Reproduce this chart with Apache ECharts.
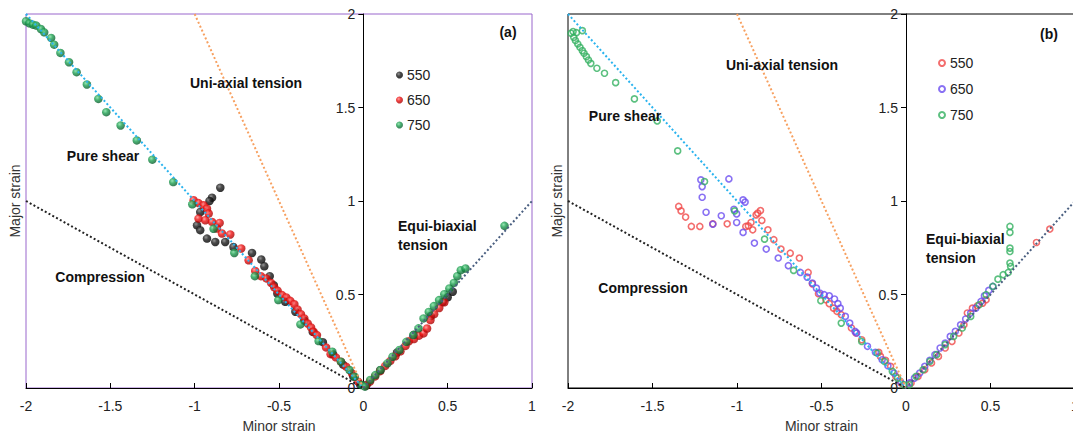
<!DOCTYPE html>
<html>
<head>
<meta charset="utf-8">
<script src="https://cdn.jsdelivr.net/npm/echarts@6/dist/echarts.min.js"></script>
<style>
  html, body { margin: 0; padding: 0; background: #fff; }
  #chart { width: 1073px; height: 436px; }
</style>
</head>
<body>
<div id="chart"></div>
<script>
// series names (legend labels)
var seriesNames = ['550', '650', '750']
var xTicks = { min: -2, max: 1, step: 0.5 }
var yTicks = { min: 0, max: 2, step: 0.5 }

// reference strain paths: [minor, major]
var pureShear = [[-2, 2], [0, 0]]
var uniaxial = [[-1, 2], [0, 0]]
var compression = [[-2, 1], [0, 0]]
var equiBiaxial = [[0, 0], [1, 1]]

// panel (a) data
var a550 = [
  [-0.848, 1.071], [-0.897, 1.018], [-0.912, 1.000], [-0.967, 0.941], [-0.986, 0.870], [-0.967, 0.844],
  [-0.927, 0.799], [-0.878, 0.781], [-0.819, 0.781], [-0.770, 0.754], [-0.660, 0.722], [-0.605, 0.687],
  [-0.587, 0.651], [-0.555, 0.598], [-0.531, 0.550], [-0.510, 0.505], [-0.463, 0.461], [-0.403, 0.408],
  [-0.350, 0.360], [-0.300, 0.300], [-0.240, 0.245], [-0.180, 0.180], [-0.120, 0.125], [-0.060, 0.062],
  [-0.020, 0.020], [0.020, 0.018], [0.100, 0.095], [0.200, 0.190], [0.300, 0.285], [0.400, 0.385],
  [0.470, 0.460], [0.500, 0.485], [0.530, 0.515]
]
var a650 = [
  [-1.006, 1.004], [-0.977, 0.989], [-0.947, 0.977], [-0.927, 0.959], [-0.917, 0.933], [-0.977, 0.906],
  [-0.937, 0.897], [-0.897, 0.888], [-0.852, 0.883], [-0.868, 0.853], [-0.838, 0.826], [-0.789, 0.821],
  [-0.724, 0.746], [-0.680, 0.683], [-0.641, 0.626], [-0.607, 0.598], [-0.575, 0.586], [-0.547, 0.562],
  [-0.528, 0.538], [-0.508, 0.520], [-0.482, 0.497], [-0.457, 0.484], [-0.433, 0.466], [-0.409, 0.448],
  [-0.390, 0.420], [-0.370, 0.395], [-0.350, 0.372], [-0.330, 0.345], [-0.310, 0.324], [-0.295, 0.301],
  [-0.275, 0.283], [-0.221, 0.217], [-0.194, 0.181], [-0.163, 0.164], [-0.133, 0.141], [-0.102, 0.114],
  [-0.067, 0.078], [-0.031, 0.034],
  [0.015, 0.012], [0.040, 0.035], [0.070, 0.062], [0.100, 0.090], [0.130, 0.118], [0.160, 0.145],
  [0.190, 0.170], [0.220, 0.196], [0.250, 0.225], [0.270, 0.250], [0.300, 0.262], [0.330, 0.280],
  [0.357, 0.292], [0.378, 0.318], [0.398, 0.363], [0.420, 0.395], [0.450, 0.428], [0.480, 0.458]
]
var a750 = [
  [-2.000, 1.961], [-1.980, 1.950], [-1.959, 1.943], [-1.939, 1.938], [-1.912, 1.920], [-1.892, 1.902],
  [-1.851, 1.872], [-1.833, 1.836], [-1.796, 1.792], [-1.745, 1.742], [-1.700, 1.689], [-1.639, 1.623],
  [-1.571, 1.546], [-1.524, 1.475], [-1.439, 1.404], [-1.343, 1.324], [-1.251, 1.221], [-1.127, 1.101],
  [-1.014, 0.982], [-0.888, 0.851], [-0.765, 0.722], [-0.643, 0.598], [-0.504, 0.470], [-0.373, 0.340],
  [-0.265, 0.251], [-0.184, 0.194], [-0.133, 0.141], [-0.082, 0.096], [-0.051, 0.060], [-0.010, 0.016],
  [0.010, 0.007], [0.041, 0.043], [0.071, 0.069], [0.102, 0.096], [0.143, 0.132], [0.173, 0.167],
  [0.214, 0.203], [0.255, 0.247], [0.296, 0.283], [0.327, 0.319], [0.357, 0.372], [0.388, 0.407],
  [0.418, 0.438], [0.449, 0.470], [0.480, 0.502], [0.510, 0.532], [0.537, 0.562], [0.557, 0.598],
  [0.578, 0.630], [0.606, 0.639], [0.837, 0.867]
]

// panel (b) data
var b550 = [
  [-1.345, 0.971], [-1.331, 0.947], [-1.304, 0.914], [-1.270, 0.864], [-1.220, 0.864], [-1.143, 0.878],
  [-1.058, 0.878], [-0.948, 0.864], [-0.933, 0.867], [-0.917, 0.885], [-0.907, 0.846], [-0.887, 0.926],
  [-0.877, 0.935], [-0.861, 0.949], [-0.853, 0.896], [-0.817, 0.846], [-0.782, 0.793], [-0.740, 0.743],
  [-0.685, 0.721], [-0.631, 0.695], [-0.579, 0.618], [-0.554, 0.557], [-0.518, 0.504], [-0.474, 0.472],
  [-0.454, 0.451], [-0.429, 0.427], [-0.409, 0.410], [-0.383, 0.392], [-0.323, 0.321], [-0.296, 0.294],
  [-0.262, 0.258], [-0.161, 0.191], [-0.151, 0.169], [-0.121, 0.148], [-0.091, 0.116], [-0.060, 0.062],
  [-0.030, 0.027],
  [0.030, 0.027], [0.071, 0.062], [0.111, 0.098], [0.151, 0.134], [0.192, 0.169], [0.232, 0.214],
  [0.272, 0.249], [0.313, 0.294], [0.343, 0.338], [0.363, 0.401], [0.393, 0.427], [0.423, 0.440],
  [0.454, 0.454], [0.474, 0.472], [0.772, 0.778], [0.851, 0.850]
]
var b650 = [
  [-1.214, 1.113], [-1.206, 1.077], [-1.206, 1.020], [-1.183, 0.940], [-1.143, 0.876], [-1.093, 0.921],
  [-1.048, 1.118], [-1.018, 0.956], [-1.002, 0.931], [-1.002, 0.885], [-0.964, 0.832], [-0.964, 1.006],
  [-0.952, 0.994], [-0.897, 0.775], [-0.827, 0.743], [-0.756, 0.695], [-0.696, 0.654], [-0.625, 0.618],
  [-0.585, 0.593], [-0.554, 0.561], [-0.530, 0.534], [-0.510, 0.508], [-0.484, 0.499], [-0.454, 0.493],
  [-0.423, 0.476], [-0.403, 0.451], [-0.389, 0.427], [-0.359, 0.383], [-0.333, 0.347], [-0.302, 0.303],
  [-0.292, 0.294], [-0.228, 0.223], [-0.181, 0.191], [-0.141, 0.151], [-0.107, 0.119], [-0.071, 0.080],
  [-0.034, 0.036],
  [0.020, 0.027], [0.050, 0.053], [0.081, 0.080], [0.111, 0.116], [0.141, 0.148], [0.171, 0.178],
  [0.202, 0.214], [0.232, 0.240], [0.262, 0.276], [0.292, 0.303], [0.323, 0.338], [0.353, 0.369],
  [0.383, 0.401], [0.413, 0.427], [0.444, 0.463], [0.464, 0.493], [0.490, 0.522], [0.514, 0.543]
]
var b750 = [
  [-1.982, 1.897], [-1.970, 1.906], [-1.950, 1.900], [-1.915, 1.911], [-1.966, 1.875], [-1.956, 1.858],
  [-1.942, 1.840], [-1.929, 1.822], [-1.915, 1.804], [-1.905, 1.790], [-1.891, 1.772], [-1.879, 1.754],
  [-1.865, 1.736], [-1.829, 1.710], [-1.784, 1.683], [-1.718, 1.633], [-1.607, 1.546], [-1.472, 1.428],
  [-1.351, 1.268], [-1.192, 1.104], [-1.014, 0.947], [-0.837, 0.796], [-0.665, 0.629], [-0.504, 0.467],
  [-0.383, 0.347], [-0.262, 0.249], [-0.171, 0.187], [-0.127, 0.142], [-0.081, 0.089], [-0.050, 0.053],
  [-0.014, 0.018],
  [0.020, 0.018], [0.060, 0.062], [0.101, 0.098], [0.141, 0.142], [0.181, 0.178], [0.232, 0.232],
  [0.282, 0.276], [0.333, 0.321], [0.383, 0.383], [0.433, 0.445], [0.474, 0.499], [0.514, 0.543],
  [0.544, 0.582], [0.575, 0.606], [0.605, 0.618], [0.619, 0.650], [0.615, 0.668], [0.615, 0.730],
  [0.615, 0.748], [0.615, 0.832], [0.615, 0.864]
]

var regionLabels = ['Uni-axial tension', 'Pure shear', 'Compression', 'Equi-biaxial', 'tension']
var panelTags = ['(a)', '(b)']

var FONT = '"Liberation Sans", Arial, sans-serif'
var chart = echarts.init(document.getElementById('chart'), null, { renderer: 'svg' })

// two panels, same scales
var grids = [
  { left: 26, top: 14, width: 506, height: 374, border: '#9966cc' },
  { left: 568, top: 14, width: 507, height: 374, border: '#000' }
]

function ball(light, mid, dark) {
  return new echarts.graphic.RadialGradient(0.38, 0.35, 0.65, [
    { offset: 0, color: light },
    { offset: 0.45, color: mid },
    { offset: 1, color: dark }
  ])
}

function axesFor(idx) {
  var g = grids[idx]
  // y axis sits at minor strain = 0
  var zeroX = g.width * (0 - xTicks.min) / (xTicks.max - xTicks.min)
  var x = {
    gridIndex: idx,
    type: 'value',
    min: xTicks.min,
    max: xTicks.max,
    interval: xTicks.step,
    name: 'Minor strain',
    nameLocation: 'middle',
    nameGap: 31,
    nameTextStyle: { color: '#333', fontSize: 14, fontFamily: FONT },
    axisLine: { onZero: false, lineStyle: { color: '#000', width: 1 } },
    axisTick: { inside: true, length: 5, lineStyle: { color: '#000' } },
    axisLabel: { color: '#222', fontSize: 14, fontFamily: FONT, margin: 11, showMinLabel: true, showMaxLabel: true },
    splitLine: { show: false }
  }
  var y = {
    gridIndex: idx,
    type: 'value',
    position: 'left',
    offset: -zeroX,
    min: yTicks.min,
    max: yTicks.max,
    interval: yTicks.step,
    name: 'Major strain',
    nameLocation: 'middle',
    nameGap: zeroX + 4,
    nameTextStyle: { color: '#333', fontSize: 14, fontFamily: FONT },
    axisLine: { show: true, onZero: false, lineStyle: { color: '#000', width: 1 } },
    axisTick: { show: true, length: 5, lineStyle: { color: '#000' } },
    axisLabel: { color: '#222', fontSize: 14, fontFamily: FONT, margin: 8, showMinLabel: true, showMaxLabel: true },
    splitLine: { show: false }
  }
  return [x, y]
}

var ax0 = axesFor(0)
var ax1 = axesFor(1)

function refLine(data, color, idx) {
  return {
    type: 'line',
    xAxisIndex: idx,
    yAxisIndex: idx,
    data: data,
    symbol: 'none',
    silent: true,
    z: 5,
    lineStyle: { color: color, width: 2, type: [2, 2.3] }
  }
}

var aStyles = [
  ball('#7a7a7a', '#1c1c1c', '#000000'),
  ball('#ff8a8a', '#ee1111', '#a80000'),
  ball('#7ee0a0', '#1d9f50', '#0a5f2e')
]
var bColors = ['#f04848', '#6a4cf0', '#33b060']

var seriesA = [a550, a650, a750].map(function(d, i) {
  return {
    name: seriesNames[i] + ' a',
    type: 'scatter',
    xAxisIndex: 0,
    yAxisIndex: 0,
    data: d,
    symbol: 'circle',
    symbolSize: 8.5,
    itemStyle: { color: aStyles[i] },
    z: 3
  }
})
var seriesB = [b550, b650, b750].map(function(d, i) {
  return {
    name: seriesNames[i] + ' b',
    type: 'scatter',
    xAxisIndex: 1,
    yAxisIndex: 1,
    data: d,
    symbol: 'circle',
    symbolSize: 6,
    itemStyle: { color: 'rgba(255,255,255,0)', borderColor: bColors[i], borderWidth: 1.6 },
    z: 3
  }
})

function txt(x, y, s, align, bold) {
  return {
    type: 'text',
    x: x,
    y: y,
    silent: true,
    z: 10,
    style: {
      text: s,
      fill: '#111',
      font: (bold ? 'bold ' : '') + '14px ' + FONT,
      align: align || 'center',
      verticalAlign: 'middle'
    }
  }
}

chart.setOption({
  backgroundColor: '#fff',
  animation: false,
  grid: grids.map(function(g) {
    return {
      left: g.left, top: g.top, width: g.width, height: g.height,
      outerBoundsMode: 'none', containLabel: false,
      show: true, borderColor: g.border, borderWidth: 1, backgroundColor: 'transparent'
    }
  }),
  xAxis: [ax0[0], ax1[0]],
  yAxis: [ax0[1], ax1[1]],
  legend: [
    {
      data: seriesNames.map(function(n) { return n + ' a' }),
      formatter: function(n) { return n.split(' ')[0] },
      orient: 'vertical',
      left: 396,
      top: 68,
      padding: 0,
      icon: 'circle',
      itemWidth: 7,
      itemHeight: 7,
      itemGap: 11,
      textStyle: { color: '#222', fontSize: 14, fontFamily: FONT, padding: [0, 0, 0, -1] }
    },
    {
      data: seriesNames.map(function(n) { return n + ' b' }),
      formatter: function(n) { return n.split(' ')[0] },
      orient: 'vertical',
      left: 938,
      top: 56,
      padding: 0,
      icon: 'circle',
      itemWidth: 6,
      itemHeight: 6,
      itemGap: 12,
      textStyle: { color: '#222', fontSize: 14, fontFamily: FONT }
    }
  ],
  graphic: [
    txt(246, 83, regionLabels[0], 'center', true),
    txt(103, 156, regionLabels[1], 'center', true),
    txt(100, 277, regionLabels[2], 'center', true),
    txt(398, 226, regionLabels[3], 'left', true),
    txt(398, 245, regionLabels[4], 'left', true),
    txt(508, 32, panelTags[0], 'center', true),
    txt(782, 65, regionLabels[0], 'center', true),
    txt(625, 116, regionLabels[1], 'center', true),
    txt(643, 288, regionLabels[2], 'center', true),
    txt(926, 239, regionLabels[3], 'left', true),
    txt(926, 258, regionLabels[4], 'left', true),
    txt(1049, 34, panelTags[1], 'center', true)
  ],
  series: seriesA.concat(seriesB).concat([
    refLine(pureShear, '#29b3ee', 0),
    refLine(uniaxial, '#f7a060', 0),
    refLine(compression, '#222222', 0),
    refLine(equiBiaxial, '#4a5f80', 0),
    refLine(pureShear, '#29b3ee', 1),
    refLine(uniaxial, '#f7a060', 1),
    refLine(compression, '#222222', 1),
    refLine(equiBiaxial, '#4a5f80', 1)
  ])
})
</script>
</body>
</html>
